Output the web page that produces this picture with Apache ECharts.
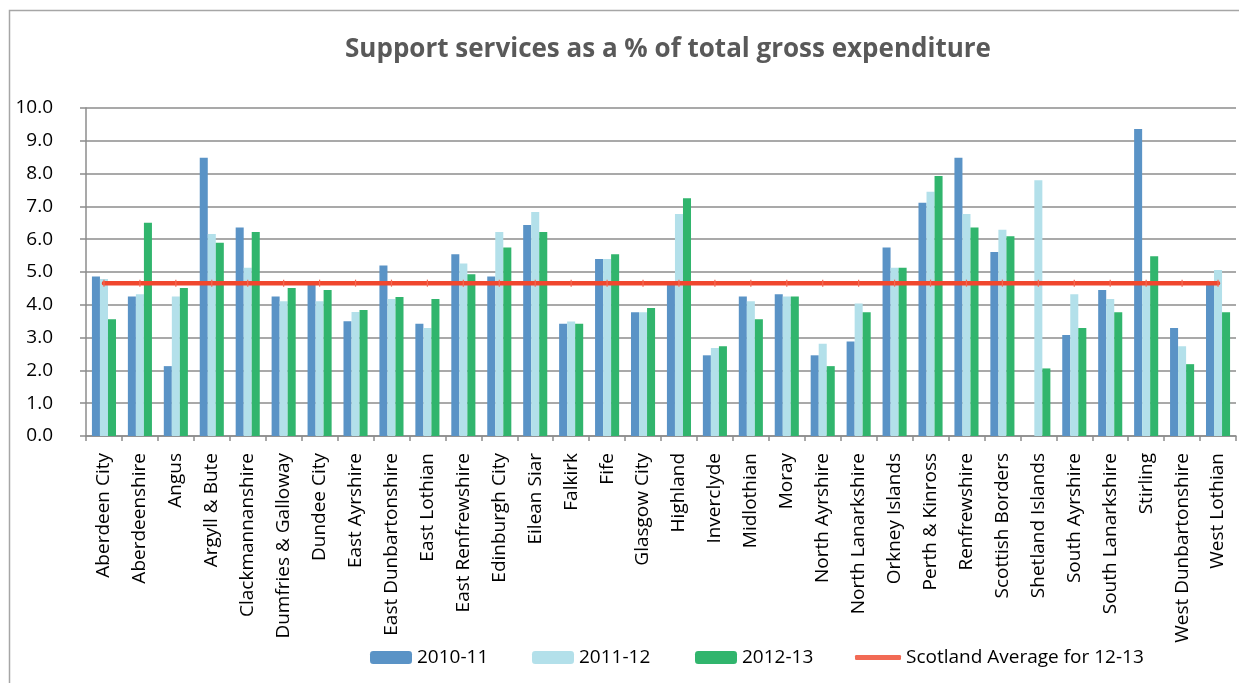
<!DOCTYPE html>
<html>
<head>
<meta charset="utf-8">
<title>Support services as a % of total gross expenditure</title>
<script src="https://cdn.jsdelivr.net/npm/echarts@6/dist/echarts.min.js"></script>
<style>
  html, body { margin: 0; padding: 0; background: #fff; }
  #chart { width: 1239px; height: 683px; }
</style>
</head>
<body>
<div id="chart"></div>
<script>
// Council areas (category axis)
const councils = [
  'Aberdeen City', 'Aberdeenshire', 'Angus', 'Argyll & Bute', 'Clackmannanshire',
  'Dumfries & Galloway', 'Dundee City', 'East Ayrshire', 'East Dunbartonshire',
  'East Lothian', 'East Renfrewshire', 'Edinburgh City', 'Eilean Siar', 'Falkirk',
  'Fife', 'Glasgow City', 'Highland', 'Inverclyde', 'Midlothian', 'Moray',
  'North Ayrshire', 'North Lanarkshire', 'Orkney Islands', 'Perth & Kinross',
  'Renfrewshire', 'Scottish Borders', 'Shetland Islands', 'South Ayrshire',
  'South Lanarkshire', 'Stirling', 'West Dunbartonshire', 'West Lothian'
];

// Support services as % of total gross expenditure, by year
const y2010_11 = [
  4.86, 4.25, 2.13, 8.48, 6.36, 4.25, 4.65, 3.50, 5.20, 3.42, 5.54, 4.86, 6.43, 3.42,
  5.40, 3.77, 4.65, 2.46, 4.25, 4.32, 2.46, 2.88, 5.75, 7.11, 8.48, 5.61, 0,
  3.08, 4.45, 9.36, 3.29, 4.65
];
const y2011_12 = [
  4.79, 4.32, 4.25, 6.16, 5.13, 4.11, 4.11, 3.78, 4.18, 3.29, 5.26, 6.22, 6.83, 3.49,
  5.40, 3.77, 6.77, 2.68, 4.11, 4.25, 2.81, 4.04, 5.13, 7.45, 6.77, 6.29, 7.80,
  4.32, 4.18, 4.65, 2.74, 5.06
];
const y2012_13 = [
  3.56, 6.50, 4.51, 5.89, 6.22, 4.51, 4.45, 3.84, 4.24, 4.18, 4.93, 5.75, 6.22, 3.42,
  5.54, 3.90, 7.25, 2.74, 3.56, 4.25, 2.13, 3.77, 5.13, 7.93, 6.36, 6.09, 2.06,
  3.29, 3.77, 5.48, 2.19, 3.77
];

// Scotland-wide average for 2012-13
const scotlandAverage = 4.66;

// Y axis tick range
const yMin = 0, yMax = 10, yStep = 1;

const seriesNames = ['2010-11', '2011-12', '2012-13', 'Scotland Average for 12-13'];
const colors = ['#5a93c6', '#b3e0ea', '#31b56d', '#f0472e'];

const FONT = '"Open Sans", sans-serif';
const AXIS_GREY = '#8c8c8c';

const chart = echarts.init(document.getElementById('chart'), null, { renderer: 'canvas' });

// One legend block per entry so each sits at its own spot along the bottom
function legendAt(entry, left, w, h) {
  return {
    data: [entry],
    left: left,
    top: 648,
    itemWidth: w,
    itemHeight: h,
    itemGap: 0,
    padding: 0,
    selectedMode: false,
    textStyle: { fontFamily: FONT, fontSize: 19, color: '#000' }
  };
}

const barDefaults = {
  type: 'bar',
  barGap: '0%',
  barCategoryGap: '33%',
  animation: false
};

chart.setOption({
  animation: false,
  backgroundColor: '#fff',
  color: colors,
  title: {
    text: 'Support services as a % of total gross expenditure',
    left: 663,
    top: 32,
    textAlign: 'center',
    textStyle: { fontFamily: FONT, fontSize: 26, fontWeight: 'bold', color: '#595959' }
  },
  graphic: [{
    type: 'rect',
    shape: { x: 9.5, y: 10.5, width: 1240, height: 690 },
    style: { fill: 'none', stroke: '#a6a6a6', lineWidth: 1.5 },
    silent: true
  }],
  legend: [
    legendAt(seriesNames[0], 370, 42, 13),
    legendAt(seriesNames[1], 532, 42, 13),
    legendAt(seriesNames[2], 695, 42, 13),
    legendAt({ name: seriesNames[3], icon: 'roundRect' }, 855, 46, 5)
  ],
  grid: { left: 86, right: 3, top: 108, bottom: 247, containLabel: false },
  xAxis: {
    type: 'category',
    data: councils,
    boundaryGap: true,
    axisLine: { show: true, lineStyle: { color: AXIS_GREY, width: 1.5 } },
    axisTick: { show: true, length: 5, lineStyle: { color: AXIS_GREY, width: 1.5 } },
    axisLabel: {
      interval: 0,
      rotate: 90,
      margin: 17,
      fontFamily: FONT,
      fontSize: 19,
      color: '#000'
    },
    splitLine: { show: false }
  },
  yAxis: {
    type: 'value',
    min: yMin,
    max: yMax,
    interval: yStep,
    axisLine: { show: true, lineStyle: { color: AXIS_GREY, width: 1.5 } },
    axisTick: { show: true, inside: false, length: 6, lineStyle: { color: AXIS_GREY, width: 1.5 } },
    axisLabel: {
      margin: 33,
      fontFamily: FONT,
      fontSize: 19,
      color: '#000',
      formatter: v => v.toFixed(1)
    },
    splitLine: { show: true, lineStyle: { color: AXIS_GREY, width: 1.5 } }
  },
  series: [
    Object.assign({ name: seriesNames[0], data: y2010_11, itemStyle: { color: colors[0] } }, barDefaults),
    Object.assign({ name: seriesNames[1], data: y2011_12, itemStyle: { color: colors[1] } }, barDefaults),
    Object.assign({ name: seriesNames[2], data: y2012_13, itemStyle: { color: colors[2] } }, barDefaults),
    {
      name: seriesNames[3],
      type: 'line',
      data: councils.map(() => scotlandAverage),
      symbol: 'rect',
      symbolSize: [1.2, 7],
      showSymbol: true,
      lineStyle: { color: colors[3], width: 4.5, cap: 'round' },
      itemStyle: { color: '#f26a55' },
      z: 5,
      animation: false
    }
  ]
});
</script>
</body>
</html>
